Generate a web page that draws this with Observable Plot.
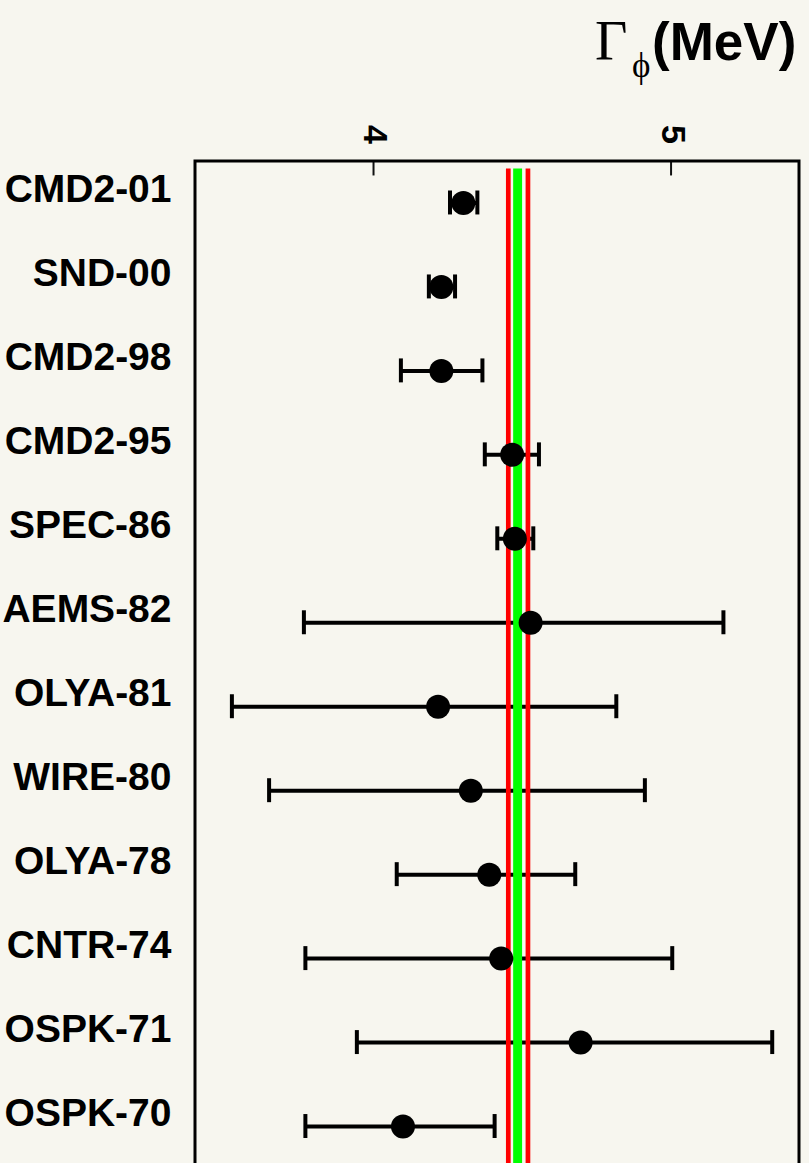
<!DOCTYPE html>
<html>
<head>
<meta charset="utf-8">
<script src="https://cdn.jsdelivr.net/npm/d3@7"></script>
<script src="https://cdn.jsdelivr.net/npm/@observablehq/plot@0.6"></script>
<style>
  html, body { margin: 0; padding: 0; background: #f7f6ef; }
  #wrap { position: relative; width: 809px; height: 1163px; overflow: hidden; }
  #title { position: absolute; left: 0; top: 0; }
  #chart { position: absolute; left: 0; top: 0; }
</style>
</head>
<body>
<div id="wrap">
  <div id="chart"></div>
  <svg id="title" width="809" height="100">
    <text x="595" y="60" font-family="Liberation Serif" font-size="56" fill="#000">Γ</text>
    <text x="632" y="77" font-family="Liberation Serif" font-size="35" fill="#000">ϕ</text>
    <text x="652" y="60" font-family="Liberation Sans" font-weight="bold" font-size="53" fill="#000">(MeV)</text>
  </svg>
</div>
<script>
// Experiments (top to bottom)
const experiments = ["CMD2-01","SND-00","CMD2-98","CMD2-95","SPEC-86","AEMS-82","OLYA-81","WIRE-80","OLYA-78","CNTR-74","OSPK-71","OSPK-70"];
// Measured width (MeV)
const widths = [4.302,4.228,4.228,4.466,4.475,4.528,4.217,4.327,4.389,4.429,4.696,4.099];
// Lower / upper end of error bars (MeV)
const lowers = [4.257,4.186,4.092,4.374,4.416,3.766,3.524,3.649,4.078,3.771,3.944,3.771];
const uppers = [4.349,4.274,4.366,4.556,4.537,5.176,4.816,4.912,4.678,5.004,5.340,4.407];
// Average band
const bandMean = 4.486;
const bandInner = 0.015;
const bandOuter = 0.033;
// Axis ticks
const tickValues = [4, 5];

const data = experiments.map((name, i) => ({name, w: widths[i], lo: lowers[i], hi: uppers[i]}));
const band = [{mean: bandMean, inner: bandInner, outer: bandOuter}];

const chart = Plot.plot({
  width: 809,
  height: 1170,
  marginLeft: 194.5,
  marginRight: 10.5,
  marginTop: 160.5,
  marginBottom: 2,
  style: {background: "transparent", fontFamily: "Liberation Sans"},
  x: {domain: [3.4, 5.43], axis: null},
  y: {type: "band", domain: experiments, padding: 0, round: false, axis: null},
  marks: [
    Plot.ruleY(data, {y: "name", x1: "lo", x2: "hi", stroke: "#000", strokeWidth: 4}),
    Plot.tickX(data, {x: "lo", y: "name", stroke: "#000", strokeWidth: 4, insetTop: 30, insetBottom: 30}),
    Plot.tickX(data, {x: "hi", y: "name", stroke: "#000", strokeWidth: 4, insetTop: 30, insetBottom: 30}),
    Plot.rect(band, {x1: d => d.mean - d.inner, x2: d => d.mean + d.inner, fill: "#00ff00", insetTop: 8}),
    Plot.ruleX(band, {x: d => d.mean - d.outer, stroke: "#ff0000", strokeWidth: 4.7, insetTop: 8}),
    Plot.ruleX(band, {x: d => d.mean + d.outer, stroke: "#ff0000", strokeWidth: 4.7, insetTop: 8}),
    Plot.dot(data, {x: "w", y: "name", r: 12, fill: "#000", stroke: null}),
    Plot.tickX(tickValues, {x: d => d, y: () => experiments[0], stroke: "#111", strokeWidth: 2, insetBottom: 69}),
    Plot.text(tickValues, {x: d => d, frameAnchor: "top", dx: 15, dy: -26.5, rotate: 90, text: d => String(d), fontSize: 34, fontWeight: "bold", fill: "#000"}),
    Plot.text(data, {y: "name", frameAnchor: "left", textAnchor: "end", dx: -23.5, dy: -13, text: "name", fontSize: 39, fontWeight: "bold", fill: "#000"}),
    Plot.frame({stroke: "#000", strokeWidth: 3})
  ]
});
document.getElementById("chart").appendChild(chart);
</script>
</body>
</html>
